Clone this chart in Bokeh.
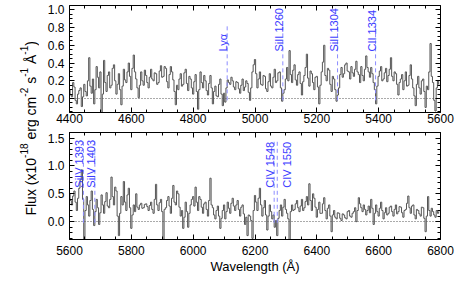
import numpy as np
from bokeh.plotting import figure
from bokeh.models import (ColumnDataSource, LinearAxis, SingleIntervalTicker,
                          PrintfTickFormatter, CustomJSTickFormatter, Div, Range1d)
from bokeh.layouts import row, column
from bokeh.embed import file_html
from bokeh.resources import INLINE
from bokeh.core.properties import value
from bokeh.transform import dodge

# ---------------- data ----------------
top_start, bot_start, bin_width = 4400.0, 5600.0, 4.0

flux_top = [
    0.10, 0.04, 0.02, 0.18, 0.13, -0.02, -0.06, 0.05, 0.09, 0.12,
    -0.09, 0.02, 0.16, 0.08, 0.03, 0.20, 0.46, 0.14, 0.06, 0.22,
    -0.06, 0.10, 0.36, 0.24, 0.12, 0.30, -0.20, 0.05, 0.43, 0.18,
    0.08, 0.26, 0.30, 0.12, 0.15, 0.34, 0.38, 0.20, 0.05, 0.16,
    0.28, 0.10, -0.07, 0.14, 0.33, 0.21, 0.18, 0.30, 0.40, 0.25,
    0.10, 0.34, 0.49, 0.30, 0.22, 0.12, 0.01, 0.15, 0.30, 0.20,
    0.15, 0.32, 0.26, 0.18, 0.12, 0.24, 0.33, 0.22, 0.20, 0.29,
    0.28, 0.16, 0.18, 0.31, 0.37, 0.24, 0.25, 0.36, 0.34, 0.19,
    0.12, 0.27, 0.36, 0.30, 0.21, 0.08, -0.07, 0.15, 0.10, 0.22,
    0.28, 0.14, 0.16, 0.29, 0.33, 0.17, 0.09, 0.25, 0.22, 0.12,
    0.05, 0.19, 0.27, 0.08, -0.12, 0.10, 0.30, 0.18, 0.12, 0.26,
    0.20, 0.09, 0.04, 0.17, 0.26, 0.12, -0.06, 0.08, 0.14, 0.03,
    0.02, 0.16, 0.22, 0.05, -0.08, 0.06, -0.04, 0.12, 0.21, 0.18,
    0.16, 0.24, 0.20, 0.13, 0.10, 0.19, 0.18, 0.11, 0.06, 0.15,
    0.22, 0.09, 0.13, 0.20, 0.17, 0.07, -0.02, 0.12, 0.30, 0.38,
    0.44, 0.28, 0.12, 0.22, 0.30, 0.16, 0.15, 0.26, 0.25, 0.11,
    0.08, 0.19, 0.28, 0.14, 0.12, 0.24, 0.33, 0.18, 0.20, 0.29,
    0.30, 0.12, -0.03, 0.06, 0.10, 0.22, 0.35, 0.20, 0.54, 0.27,
    0.18, 0.32, 0.38, 0.21, 0.15, 0.27, 0.30, 0.17, 0.04, 0.19,
    0.26, 0.35, 0.50, 0.23, 0.14, 0.31, 0.28, 0.18, 0.10, 0.24,
    0.25, 0.13, -0.06, 0.15, 0.30, 0.41, 0.60, 0.26, 0.20, 0.34,
    0.32, 0.16, 0.08, 0.25, 0.22, 0.10, -0.03, 0.04, 0.12, 0.27,
    0.35, 0.24, 0.28, 0.38, 0.40, 0.31, 0.30, 0.22, 0.36, 0.29,
    0.25, 0.33, 0.42, 0.30, 0.27, 0.18, 0.36, 0.26, 0.20, 0.33,
    0.48, 0.35, 0.30, 0.24, 0.35, 0.28, 0.18, 0.10, -0.06, 0.14,
    0.25, 0.31, 0.36, 0.20, 0.22, 0.29, 0.34, 0.19, 0.26, 0.33,
    0.46, 0.25, 0.20, 0.30, 0.28, 0.16, 0.04, 0.18, 0.22, 0.27,
    0.10, 0.20, 0.30, 0.14, 0.15, 0.26, 0.38, 0.22, 0.12, 0.03,
    -0.08, 0.16, 0.25, 0.12, 0.05, 0.20, 0.22, 0.08, -0.10, 0.14,
    0.10, 0.30, 0.62, 0.25, 0.18, -0.02, -0.14, 0.12, 0.20, 0.16,
]

flux_bot = [
    0.50, 0.38, 0.30, 0.46, 0.55, 0.35, 0.20, 0.42, 0.60, 0.75,
    0.93, 0.40, -0.40, 0.20, 0.45, 0.30, 0.10, 0.38, 0.55, 0.22,
    -0.07, 0.18, 0.40, 0.25, -0.05, 0.16, 0.48, 0.30, 0.15, 0.36,
    0.52, 0.28, 0.25, 0.40, 0.80, 0.45, 0.30, 0.62, 0.55, 0.10,
    -0.25, 0.15, 0.45, 0.30, 0.72, 0.35, 0.20, 0.48, 0.60, 0.25,
    -0.12, 0.12, 0.30, 0.18, 0.50, 0.26, 0.22, 0.30, 0.33, 0.24,
    0.25, 0.31, 0.32, 0.27, 0.20, 0.29, 0.35, 0.22, 0.15, 0.40,
    0.67, 0.30, 0.20, 0.34, 0.40, 0.18, -0.40, 0.22, 0.25, 0.38,
    0.45, 0.28, 0.15, 0.42, 0.65, 0.35, 0.30, 0.55, 0.50, 0.26,
    0.10, 0.20, -0.12, 0.08, 0.35, 0.18, -0.10, 0.15, 0.30, 0.40,
    0.45, 0.28, 0.62, 0.35, 0.20, 0.45, 0.40, 0.26, 0.15, 0.32,
    0.35, 0.22, 0.10, 0.38, 0.78, 0.30, 0.25, 0.12, 0.05, 0.20,
    0.28, 0.10, -0.12, 0.06, 0.20, 0.30, 0.05, 0.18, 0.35, 0.24,
    0.15, 0.33, 0.42, 0.28, 0.20, 0.30, 0.38, 0.22, 0.10, 0.26,
    0.30, 0.14, -0.05, 0.08, -0.25, 0.12, 0.10, 0.02, -0.30, 0.20,
    0.47, 0.35, 0.20, 0.42, 0.60, 0.30, 0.10, 0.25, 0.38, 0.12,
    -0.15, 0.10, 0.30, 0.18, 0.05, 0.12, -0.10, 0.02, -0.25, 0.06,
    0.20, 0.30, 0.10, 0.26, 0.40, 0.22, 0.15, 0.05, -0.40, 0.18,
    0.30, 0.20, 0.22, 0.32, 0.38, 0.25, 0.18, 0.28, 0.40, 0.20,
    0.25, 0.36, 0.45, 0.30, 0.68, 0.38, 0.20, 0.50, 0.42, 0.26,
    0.08, 0.22, 0.35, 0.15, 0.15, 0.32, 0.43, 0.20, 0.05, 0.24,
    0.30, 0.10, -0.18, 0.12, 0.20, 0.08, 0.05, 0.16, 0.15, 0.06,
    0.02, 0.14, 0.12, 0.07, 0.05, 0.18, 0.20, 0.10, 0.08, 0.15,
    0.18, 0.25, 0.00, 0.20, 0.43, 0.32, 0.25, 0.18, 0.30, 0.22,
    0.12, 0.20, 0.28, 0.16, 0.40, 0.24, -0.05, 0.15, 0.30, 0.18,
    0.10, 0.24, 0.35, 0.20, 0.05, 0.16, 0.25, 0.12, 0.15, 0.26,
    0.28, 0.18, 0.10, 0.22, 0.30, 0.14, 0.18, 0.27, 0.26, 0.16,
    0.08, 0.20, 0.22, 0.33, 0.46, 0.25, 0.15, 0.28, 0.30, 0.12,
    0.05, 0.22, 0.20, 0.14, 0.10, 0.26, 0.25, 0.06, -0.18, 0.10,
    0.45, 0.20, 0.10, 0.24, 0.18, 0.12, 0.08, 0.20, 0.15, 0.18,
]

lines_top_wl = [4910, 5090, 5267, 5390]
lines_top_lab = ["Lyα", "SiII 1260", "SiII 1304", "CII 1334"]
lines_bot_left_wl = [5645, 5682, 6262]
lines_bot_left_lab = ["SiIV 1393", "SiIV 1403", "CIV 1548"]
lines_bot_right_wl = [6272]
lines_bot_right_lab = ["CIV 1550"]

x_top_range = (4400, 5600)
x_bot_range = (5600, 6800)
y_top_range = (-0.157, 1.048)
y_bot_range = (-0.32, 1.60)
zero_level = [0.0]

FONT = "Liberation Sans"
SPEC_COLOR = "#555555"
LAB_COLOR = "#3a3aff"
DASH_COLOR = "#8c8cff"
LABEL_GAP = 13  # wavelength units between a marker line and its label


def style_axis(ax, show_labels=True, size="12px"):
    ax.axis_line_color = "black"
    ax.major_tick_line_color = "black"
    ax.minor_tick_line_color = "black"
    ax.major_tick_in = 5
    ax.major_tick_out = 0
    ax.minor_tick_in = 3
    ax.minor_tick_out = 0
    ax.major_label_text_font = FONT
    ax.major_label_text_font_size = size
    ax.major_label_text_color = "black"
    if not show_labels:
        ax.formatter = CustomJSTickFormatter(code="return '';")
        ax.major_label_text_font_size = "0px"
        ax.major_label_standoff = 0


def add_marks(p, wls, labs, dash_top, text_y, side):
    src = ColumnDataSource(dict(wl=wls, lab=labs,
                                y0=[-0.02] * len(wls), y1=[dash_top] * len(wls),
                                ty=[text_y] * len(wls)))
    p.segment(x0="wl", y0="y0", x1="wl", y1="y1", source=src,
              line_color=DASH_COLOR, line_dash="4 3", line_width=1)
    p.text(x=dodge("wl", side * LABEL_GAP), y="ty", text="lab", source=src,
           angle=np.pi / 2, text_align="left",
           text_baseline="alphabetic" if side < 0 else "top",
           text_font=value(FONT), text_font_size="11px", text_color=LAB_COLOR)


def make_panel(xr, yr, flux, start, y_int, y_minor, height, mb_top, mb_bottom):
    p = figure(width=411, height=height, x_range=Range1d(*xr), y_range=Range1d(*yr),
               output_backend="svg", toolbar_location=None,
               min_border_left=25, min_border_right=15,
               min_border_top=mb_top, min_border_bottom=mb_bottom)
    p.grid.grid_line_color = None
    p.outline_line_color = None

    xax = p.xaxis[0]
    yax = p.yaxis[0]
    xax.ticker = SingleIntervalTicker(interval=200, num_minor_ticks=4)
    yax.ticker = SingleIntervalTicker(interval=y_int, num_minor_ticks=y_minor)
    yax.formatter = PrintfTickFormatter(format="%.1f")
    style_axis(xax)
    style_axis(yax)

    ax_top = LinearAxis(ticker=SingleIntervalTicker(interval=200, num_minor_ticks=4))
    ax_right = LinearAxis(ticker=SingleIntervalTicker(interval=y_int, num_minor_ticks=y_minor))
    style_axis(ax_top, show_labels=False)
    style_axis(ax_right, show_labels=False)
    p.add_layout(ax_top, "above")
    p.add_layout(ax_right, "right")

    p.hspan(y=zero_level, line_color="#555555", line_dash="1 2", line_width=1)

    wl = start + bin_width * np.arange(len(flux))
    src = ColumnDataSource(dict(wl=wl, flux=flux))
    p.step(x="wl", y="flux", source=src, mode="center",
           line_color=SPEC_COLOR, line_width=1)
    return p, xax, yax


p1, p1x, p1y = make_panel(x_top_range, y_top_range, flux_top, top_start, 0.2, 4,
                          height=127, mb_top=5, mb_bottom=15)
p1x.major_label_standoff = 1
add_marks(p1, lines_top_wl, lines_top_lab, 0.83, 0.53, -1)

p2, p2x, p2y = make_panel(x_bot_range, y_bot_range, flux_bot, bot_start, 0.5, 5,
                          height=154, mb_top=5, mb_bottom=42)
add_marks(p2, lines_bot_left_wl, lines_bot_left_lab, 1.48, 0.61, -1)
add_marks(p2, lines_bot_right_wl, lines_bot_right_lab, 1.48, 0.61, 1)
p2x.major_label_standoff = 6
p2x.axis_label = "Wavelength (Å)"
p2x.axis_label_text_font_style = "normal"
p2x.axis_label_text_color = "black"
p2x.axis_label_standoff = 1

sup = '<sup style="font-size:72%;line-height:0;">'
ylabel_html = (
    '<div style="width:44px;height:256px;padding-left:18px;box-sizing:border-box;'
    'display:flex;align-items:center;justify-content:center;overflow:hidden;">'
    '<span style="writing-mode:vertical-rl;transform:rotate(180deg);white-space:nowrap;'
    "font-family:'Liberation Sans';font-size:14px;color:black;line-height:1;\">"
    'Flux (x10' + sup + '-18</sup> erg cm' + sup + '-2</sup> s' + sup + '-1</sup> Å'
    + sup + '-1</sup>)</span></div>'
)
ylab = Div(text=ylabel_html, width=44, height=281, margin=0)

layout = row(ylab, column(p1, p2, spacing=0), spacing=0)

open("out.html", "w").write(file_html(layout, INLINE))
